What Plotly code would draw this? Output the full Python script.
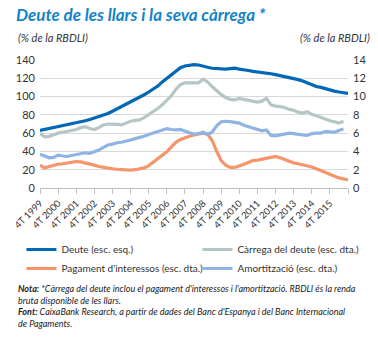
import plotly.graph_objects as go

# Quarterly data, 4T 1999 .. 4T 2016
years = list(range(1999, 2017))
tick_labels = ["4T %d" % y for y in years[:-1]] + [""]

deute = [63, 64, 65, 66.5, 67.5, 68.5, 69.5, 70, 71, 72, 73.5, 75, 76.5, 78, 79.5, 81.5,
         84, 86.5, 89, 91.5, 94, 96.5, 99, 102, 105, 108, 111.5, 116, 120, 124, 128, 131.5,
         133.5, 134.5, 135, 134.5, 133, 132, 131, 130.5, 130, 130, 130.5, 131, 130, 129.5, 128.5, 127.5,
         127, 126.5, 126, 125, 124, 123, 122, 121, 120, 118.5, 117, 115, 113, 111, 110, 108.5,
         107, 106, 105, 104.5, 103.5]

carrega = [6.0, 5.6, 5.65, 5.85, 6.0, 6.1, 6.2, 6.3, 6.4, 6.6, 6.7, 6.5, 6.4, 6.6, 6.9, 7.0,
           7.0, 6.95, 6.9, 7.1, 7.3, 7.4, 7.45, 7.7, 8.0, 8.3, 8.7, 9.1, 9.6, 10.1, 10.8, 11.3,
           11.5, 11.5, 11.45, 11.5, 11.9, 11.6, 11.1, 10.6, 10.2, 9.9, 9.7, 9.65, 9.8, 9.7, 9.6, 9.45,
           9.4, 9.5, 9.8, 9.1, 8.95, 8.9, 8.8, 8.6, 8.5, 8.3, 8.2, 8.35, 8.05, 7.9, 7.7, 7.5,
           7.35, 7.25, 7.1, 7.3]

pagament = [2.5, 2.2, 2.35, 2.5, 2.6, 2.65, 2.75, 2.8, 2.9, 2.85, 2.75, 2.6, 2.5, 2.35, 2.25, 2.2,
            2.1, 2.05, 2.0, 2.0, 1.95, 2.0, 2.1, 2.2, 2.45, 2.8, 3.15, 3.5, 3.95, 4.5, 5.0, 5.3,
            5.5, 5.65, 5.8, 5.9, 6.0, 5.9, 5.2, 4.0, 3.0, 2.5, 2.25, 2.25, 2.4, 2.6, 2.8, 3.0,
            3.05, 3.15, 3.25, 3.4, 3.45, 3.3, 3.1, 2.9, 2.75, 2.65, 2.55, 2.45, 2.3, 2.1, 1.9, 1.65,
            1.45, 1.25, 1.1, 1.0, 0.9]

amortitzacio = [3.7, 3.5, 3.3, 3.35, 3.6, 3.5, 3.45, 3.55, 3.65, 3.8, 3.85, 3.8, 3.95, 4.15, 4.45, 4.7,
                4.8, 4.95, 5.0, 5.1, 5.25, 5.4, 5.5, 5.65, 5.85, 6.0, 6.15, 6.3, 6.5, 6.4, 6.35, 6.4,
                6.2, 6.05, 5.9, 5.95, 6.1, 5.85, 6.1, 6.8, 7.25, 7.3, 7.25, 7.2, 7.1, 6.85, 6.7, 6.55,
                6.35, 6.25, 6.35, 5.75, 5.7, 5.8, 5.9, 6.0, 5.95, 5.85, 5.8, 5.75, 5.95, 6.0, 6.0, 6.2,
                6.15, 6.1, 6.3, 6.45]

left_ticks = [0, 20, 40, 60, 80, 100, 120, 140]
right_ticks = [0, 2, 4, 6, 8, 10, 12, 14]

FONT = "Lato, 'Open Sans', sans-serif"
TXT = "#333333"
PW, PH = 315, 128  # plot area size in px

fig = go.Figure()
W = 3.2
fig.add_trace(go.Scatter(x=list(range(len(deute))), y=deute, name="Deute (esc. esq.)",
                         mode="lines", line=dict(color="#0068b4", width=W), yaxis="y", legend="legend"))
fig.add_trace(go.Scatter(x=list(range(len(carrega))), y=carrega, name="Càrrega del deute (esc. dta.)",
                         mode="lines", line=dict(color="#b6c5c5", width=W), yaxis="y2", legend="legend2"))
fig.add_trace(go.Scatter(x=list(range(len(pagament))), y=pagament, name="Pagament d'interessos (esc. dta.)",
                         mode="lines", line=dict(color="#f4956b", width=W), yaxis="y2", legend="legend"))
fig.add_trace(go.Scatter(x=list(range(len(amortitzacio))), y=amortitzacio, name="Amortització (esc. dta.)",
                         mode="lines", line=dict(color="#8fb4e3", width=W), yaxis="y2", legend="legend2"))

leg_common = dict(orientation="v", yanchor="top", font=dict(size=10, color=TXT, family=FONT),
                  itemwidth=30, tracegroupgap=0, bgcolor="rgba(0,0,0,0)", borderwidth=0,
                  traceorder="normal")

fig.update_layout(
    width=378, height=338,
    margin=dict(l=33, r=30, t=60, b=150),
    paper_bgcolor="white", plot_bgcolor="white",
    font=dict(family=FONT, size=10, color=TXT),
    showlegend=True,
    legend=dict(x=(14 - 33) / PW, xanchor="left", y=-(235 - 188) / PH, **leg_common),
    legend2=dict(x=(194 - 33) / PW, xanchor="left", y=-(235 - 188) / PH, **leg_common),
    xaxis=dict(range=[0, 68], tickmode="array", tickvals=[4 * k for k in range(len(tick_labels))],
               ticktext=tick_labels, tickangle=-45, tickfont=dict(size=9.5, color=TXT),
               showgrid=False, zeroline=False, showline=True, linecolor="#bfbfbf", linewidth=1,
               ticks="outside", ticklen=5, tickcolor="#bfbfbf"),
    yaxis=dict(range=[0, 140], tickvals=left_ticks, showgrid=True, gridcolor="#d9d9d9", gridwidth=1,
               zeroline=False, tickfont=dict(size=11, color=TXT), ticks="", ticklabelstandoff=4),
    yaxis2=dict(range=[0, 14], tickvals=right_ticks, overlaying="y", side="right", showgrid=False,
                zeroline=False, tickfont=dict(size=11, color=TXT), ticks="", ticklabelstandoff=4),
)

fig.add_annotation(text="<b><i>Deute de les llars i la seva càrrega *</i></b>", xref="paper", yref="paper",
                   x=-27 / PW, y=1 + (60 - 14) / PH, xanchor="left", yanchor="middle", showarrow=False,
                   font=dict(size=17, color="#1383c8", family=FONT))
fig.add_annotation(text="<i>(% de la RBDLI)</i>", xref="paper", yref="paper",
                   x=-25 / PW, y=1 + (60 - 37) / PH, xanchor="left", yanchor="middle", showarrow=False,
                   font=dict(size=11, color=TXT, family=FONT))
fig.add_annotation(text="<i>(% de la RBDLI)</i>", xref="paper", yref="paper",
                   x=1 + 25 / PW, y=1 + (60 - 37) / PH, xanchor="right", yanchor="middle", showarrow=False,
                   font=dict(size=11, color=TXT, family=FONT))
fig.add_annotation(
    text="<b><i>Nota:</i></b><i> *Càrrega del deute inclou el pagament d'interessos i l'amortització. RBDLI és la renda<br>"
         "bruta disponible de les llars.</i><br>"
         "<b><i>Font:</i></b><i> CaixaBank Research, a partir de dades del Banc d'Espanya i del Banc Internacional<br>"
         "de Pagaments.</i>",
    xref="paper", yref="paper", x=-25 / PW, y=-(281 - 188) / PH, xanchor="left", yanchor="top",
    align="left", showarrow=False, font=dict(size=9, color="#222222", family=FONT))

fig.write_html("out.html")
